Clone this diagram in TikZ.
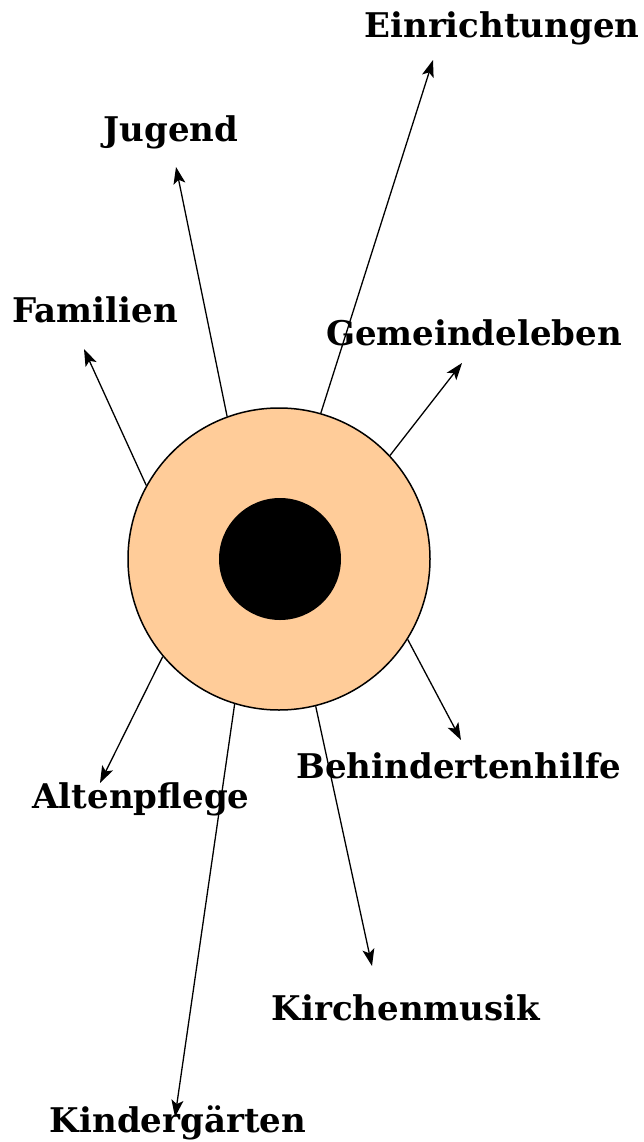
\documentclass[tikz,border=0pt]{standalone}
\usepackage{fontspec}
\setmainfont{DejaVu Serif}
\usepackage{xcolor}
\usetikzlibrary{arrows.meta}
\definecolor{peach}{RGB}{255,204,153}

\begin{document}
\begin{tikzpicture}[
    x=1pt, y=-1pt,
    >={Stealth[length=17pt, width=12pt, inset=4pt]},
    ring/.style={circle, draw, line width=1.5pt, fill=peach,
                 minimum size=302pt, inner sep=0pt},
    core/.style={circle, fill=black, minimum size=122pt, inner sep=0pt},
    arr/.style={->, line width=1.3pt},
    lbl/.style={anchor=base, inner sep=0pt,
                font=\bfseries\fontsize{34}{38}\selectfont},
  ]
  \useasboundingbox (0,0) rectangle (643,1142);

  \node[ring] (outer) at (279,559) {};
  \node[core] (inner) at (280,559) {};

  % free ends of the arrows
  \coordinate (tEin) at (433,60);
  \coordinate (tJug) at (176,167);
  \coordinate (tFam) at (84,349);
  \coordinate (tGem) at (462,363);
  \coordinate (tBeh) at (461,740);
  \coordinate (tKir) at (372,966);
  \coordinate (tKin) at (175,1117);
  \coordinate (tAlt) at (100,783);

  \draw[arr] (outer.74) -- (tEin);
  \draw[arr] (outer.110) -- (tJug);
  \draw[arr] (outer.151) -- (tFam);
  \draw[arr] (outer.43) -- (tGem);
  \draw[arr] (outer.-32) -- (tBeh);
  \draw[arr] (outer.-76) -- (tKir);
  \draw[arr] (outer.-107) -- (tKin);
  \draw[arr] (outer.-140) -- (tAlt);

  % labels
  \node[lbl] (ein) at (502,38) {Einrichtungen};
  \node[lbl] (jug) at (171,142) {Jugend};
  \node[lbl] (fam) at (95,322) {Familien};
  \node[lbl] (gem) at (474,345) {Gemeindeleben};
  \node[lbl] (beh) at (459,778) {Behindertenhilfe};
  \node[lbl] (alt) at (141,808) {Altenpflege};
  \node[lbl] (kir) at (406,1020) {Kirchenmusik};
  \node[lbl] (kin) at (178,1132) {Kindergärten};
\end{tikzpicture}
\end{document}
